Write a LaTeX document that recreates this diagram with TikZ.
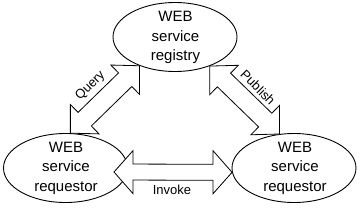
\documentclass[tikz,border=0pt]{standalone}
\usepackage{fontspec}
\setmainfont{Liberation Sans}
\usetikzlibrary{shapes.geometric,calc}
\tikzset{
  svc/.style={draw, ellipse, line width=0.9pt, minimum width=124pt, minimum height=69pt, inner sep=0pt},
  svctext/.style={align=center, font=\fontsize{15}{19.5}\selectfont, inner sep=0pt},
  arrowbox/.style={draw, fill=white, line width=0.8pt, line join=miter},
  lbl/.style={font=\fontsize{13}{14}\selectfont, inner sep=0pt}
}
% double-headed block arrow: #1 tip, #2 tip, #3 head length, #4 head half-width, #5 shaft half-width
\newcommand{\dblarr}[5]{%
  \draw[arrowbox] (#1)
    -- ($(#1)!#3!(#2)!#4!90:(#2)$)
    -- ($(#1)!#3!(#2)!#5!90:(#2)$)
    -- ($(#2)!#3!(#1)!#5!-90:(#1)$)
    -- ($(#2)!#3!(#1)!#4!-90:(#1)$)
    -- (#2)
    -- ($(#2)!#3!(#1)!#4!90:(#1)$)
    -- ($(#2)!#3!(#1)!#5!90:(#1)$)
    -- ($(#1)!#3!(#2)!#5!-90:(#2)$)
    -- ($(#1)!#3!(#2)!#4!-90:(#2)$)
    -- cycle;}
\begin{document}
\begin{tikzpicture}[x=1pt,y=-1pt]
\useasboundingbox (0,0) rectangle (360,207);
\node[svc] (reg) at (175,37) {};
\node[svc] (req1) at (65.5,168) {};
\node[svc] (req2) at (294,168) {};
\coordinate (qa) at (reg.219);
\coordinate (qb) at (req1.82);
\coordinate (pa) at (reg.320);
\coordinate (pb) at (req2.113);
\coordinate (ia) at (114,172);
\coordinate (ib) at (req2.184);
\dblarr{qa}{qb}{20pt}{20.5pt}{9.5pt}
\dblarr{pa}{pb}{20pt}{20.5pt}{9.5pt}
\dblarr{ia}{ib}{19pt}{21.5pt}{8pt}
\node[svctext] (regt) at (175.5,37.5) {WEB\\service\\registry};
\node[svctext] (req1t) at (66,168) {WEB\\service\\requestor};
\node[svctext] (req2t) at (295,168) {WEB\\service\\requestor};
\node[lbl, rotate=45] (ql) at (90.5,86) {Query};
\node[lbl, rotate=-45] (pl) at (258,87.5) {Publish};
\node[lbl] (il) at (172,189.5) {Invoke};
\end{tikzpicture}
\end{document}
